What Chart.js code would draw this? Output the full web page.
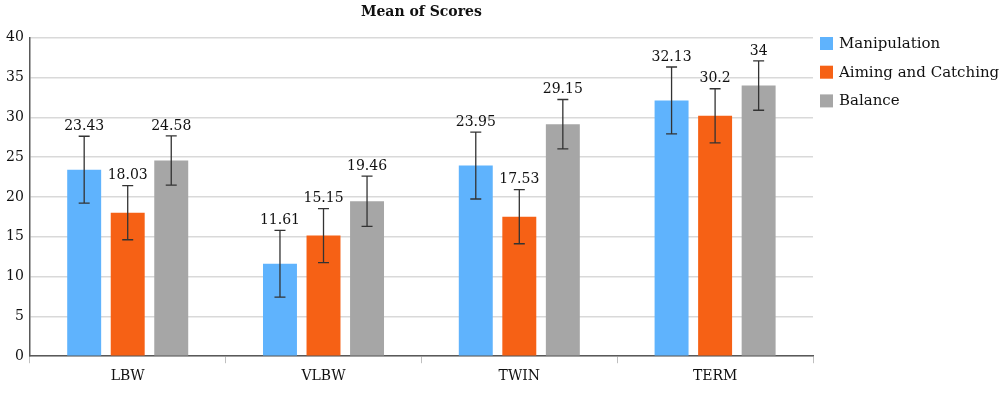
<!DOCTYPE html>
<html>
<head>
<meta charset="utf-8">
<script src="https://cdn.jsdelivr.net/npm/chart.js@4.4.0/dist/chart.umd.min.js"></script>
<style>
  body { margin: 0; background: #fff; }
  #wrap { width: 1000px; height: 394px; }
</style>
</head>
<body>
<div id="wrap"><canvas id="scoreChart"></canvas></div>
<script>
const groups = ['LBW', 'VLBW', 'TWIN', 'TERM'];
const seriesNames = ['Manipulation', 'Aiming and Catching', 'Balance'];
const manipulation = [23.43, 11.61, 23.95, 32.13];
const aiming = [18.03, 15.15, 17.53, 30.2];
const balance = [24.58, 19.46, 29.15, 34];
// error bar half-widths
const manipulationErr = [4.2, 4.2, 4.2, 4.2];
const aimingErr = [3.4, 3.4, 3.4, 3.4];
const balanceErr = [3.1, 3.15, 3.1, 3.1];
const yTicks = [0, 5, 10, 15, 20, 25, 30, 35, 40];

const serif = "'DejaVu Serif', 'Liberation Serif', serif";

const errorBars = {
    id: 'errorBars',
    afterDatasetsDraw(chart) {
        const c = chart.ctx;
        const y = chart.scales.y;
        chart.data.datasets.forEach((ds, i) => {
            const meta = chart.getDatasetMeta(i);
            meta.data.forEach((bar, j) => {
                const v = ds.data[j];
                const e = ds.err[j];
                const top = y.getPixelForValue(v + e);
                const bot = y.getPixelForValue(v - e);
                c.save();
                c.strokeStyle = '#333';
                c.lineWidth = 1.3;
                c.beginPath();
                c.moveTo(bar.x, top); c.lineTo(bar.x, bot);
                c.moveTo(bar.x - 5.5, top); c.lineTo(bar.x + 5.5, top);
                c.moveTo(bar.x - 5.5, bot); c.lineTo(bar.x + 5.5, bot);
                c.stroke();
                c.fillStyle = '#111';
                c.font = '14px ' + serif;
                c.textAlign = 'center';
                c.textBaseline = 'bottom';
                c.fillText(String(v), bar.x, top - 3);
                c.restore();
            });
        });
    }
};

// legend drawn by hand so it sits right next to the plot like the original
const sideLegend = {
    id: 'sideLegend',
    afterDraw(chart) {
        const c = chart.ctx;
        const x0 = chart.chartArea.right + 7;
        c.save();
        c.font = '15px ' + serif;
        c.textBaseline = 'middle';
        chart.data.datasets.forEach((ds, i) => {
            const top = 37 + i * 28.7;
            c.fillStyle = ds.backgroundColor;
            c.fillRect(x0, top, 13, 13);
            c.fillStyle = '#111';
            c.fillText(ds.label, x0 + 19, top + 7);
        });
        c.restore();
    }
};

const ctx = document.getElementById('scoreChart').getContext('2d');

new Chart(ctx, {
    type: 'bar',
    data: {
        labels: groups,
        datasets: [
            { label: seriesNames[0], data: manipulation, err: manipulationErr, backgroundColor: '#5fb3fd' },
            { label: seriesNames[1], data: aiming, err: aimingErr, backgroundColor: '#f66115' },
            { label: seriesNames[2], data: balance, err: balanceErr, backgroundColor: '#a6a6a6' }
        ]
    },
    options: {
        responsive: true,
        maintainAspectRatio: false,
        animation: false,
        categoryPercentage: 0.667,
        barPercentage: 0.78,
        layout: { padding: { left: 0, right: 187, top: 4, bottom: 4 } },
        plugins: {
            title: {
                display: true,
                text: 'Mean of Scores',
                color: '#111',
                fullSize: false,
                font: { family: serif, size: 14, weight: 'bold' },
                padding: { top: 0, bottom: 17 }
            },
            legend: { display: false },
            tooltip: { enabled: false }
        },
        scales: {
            x: {
                grid: {
                    offset: true,
                    drawOnChartArea: false,
                    color: '#bfbfbf',
                    tickLength: 7
                },
                border: { color: '#595959', width: 1.5 },
                ticks: { color: '#111', font: { family: serif, size: 14 }, padding: 5 }
            },
            y: {
                min: 0,
                max: 40,
                afterBuildTicks(scale) { scale.ticks = yTicks.map(v => ({ value: v })); },
                grid: { color: '#d9d9d9', lineWidth: 1.5, drawTicks: false },
                border: { color: '#595959', width: 1.5 },
                ticks: { color: '#111', font: { family: serif, size: 14 }, padding: 6 }
            }
        }
    },
    plugins: [errorBars, sideLegend]
});
</script>
</body>
</html>
